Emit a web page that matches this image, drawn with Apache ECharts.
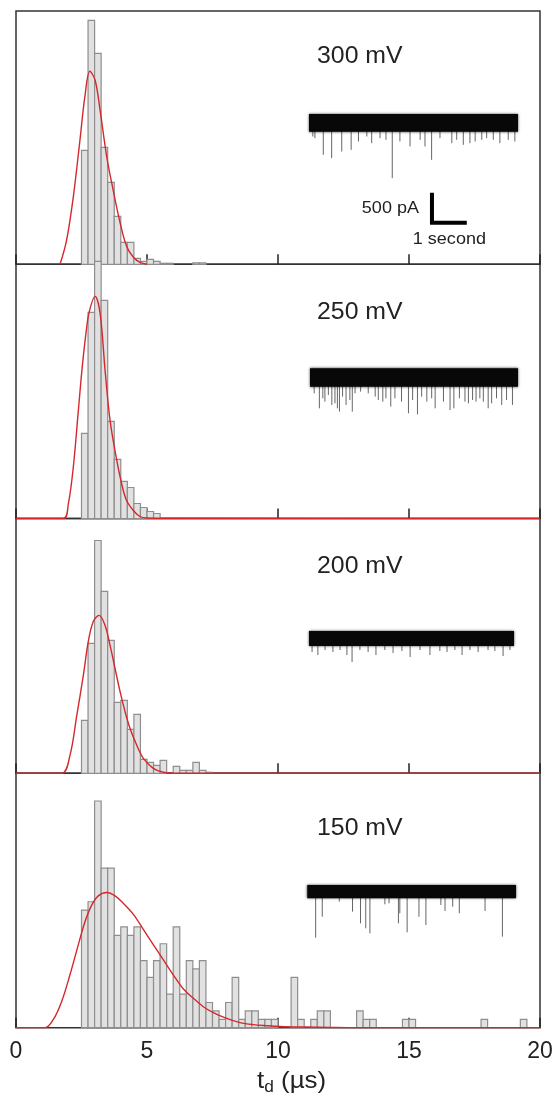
<!DOCTYPE html>
<html><head><meta charset="utf-8">
<script src="https://cdn.jsdelivr.net/npm/echarts@6/dist/echarts.min.js"></script>
<style>html,body{margin:0;padding:0;background:#fff}#c{width:557px;height:1095px}</style>
</head><body><div id="c"></div>
<script>
// ---------------- DATA ----------------
const panelLabels = ['300 mV', '250 mV', '200 mV', '150 mV'];
const xTickValues = [0, 5, 10, 15, 20];          // t_d axis ticks (µs)
const binStart = 2.5, binWidth = 0.25;           // histogram bins (µs)

// histogram heights per bin, starting at 2.5 µs
const counts300 = [114, 244, 211, 117, 82, 48, 22, 22, 6, 3, 5, 3, 1, 1, 0, 0, 0, 1.5, 1.5];
const counts250 = [85, 206, 257, 218, 97, 59, 37, 31, 15, 11, 7, 5];
const counts200 = [53, 130, 233, 182, 133, 71, 73, 44, 59, 14, 11, 8, 13, 0, 7, 3, 3, 11, 3, 1];
const counts150 = [14, 15, 27, 19, 19, 11, 12, 11, 12, 8,
                   6, 8, 10, 4, 12, 4, 8, 7, 8, 3,
                   2, 1, 3, 6, 1, 2, 2, 1, 1, 1,
                   0, 0, 6, 1, 0, 1, 2, 2, 0, 0,
                   0, 0, 2, 1, 1, 0, 0, 0, 0, 1,
                   1, 0, 0, 0, 0, 0, 0, 0, 0, 0,
                   0, 1, 0, 0, 0, 0, 0, 1];
const yMaxHist = [253.3, 254, 255, 30.3];

// fitted curves [t_d (µs), height]
const curve300 = [[1.68,0],[1.93,24],[2.19,68],[2.44,124],[2.63,168],[2.82,193],[3.02,184],[3.21,154],[3.46,108],[3.71,74],[3.97,42],[4.22,18],[4.48,7],[4.73,2],[5.0,0]];
const curve250 = [[0,0],[1.81,0],[2.0,15],[2.19,52],[2.38,108],[2.53,152],[2.67,185],[2.79,206],[3.02,222],[3.21,205],[3.40,148],[3.59,98],[3.84,59],[4.03,35],[4.22,18],[4.48,8],[4.73,2],[4.99,0.5],[6,0.2],[20,0]];
const curve200 = [[0,0],[1.74,0],[2.06,18],[2.32,58],[2.57,98],[2.76,132],[2.95,152],[3.17,158],[3.40,148],[3.59,128],[3.78,105],[3.97,82],[4.16,62],[4.35,45],[4.61,28],[4.86,15],[5.24,5],[5.62,1],[6.0,0],[20,0]];
const curve150 = [[0,0],[1.11,0],[1.42,0.95],[1.74,3.1],[2.06,6.3],[2.38,9.9],[2.63,12.6],[2.89,14.6],[3.14,15.7],[3.46,16.1],[3.78,15.7],[4.10,14.8],[4.48,13.5],[4.86,11.7],[5.24,9.9],[5.62,8.1],[6.0,6.3],[6.39,4.6],[6.77,3.5],[7.15,2.5],[7.53,1.8],[8.04,1.1],[8.55,0.6],[9.06,0.36],[9.57,0.24],[10.08,0.15],[11,0.08],[12,0.03],[13,0],[20,0]];

// current traces: time span (s), noise half-band (pA), events [t (s), current (pA)]
const traceSpan = [0, 6];
const traceNoise = [147, 153, 125, 111];
const traceYMin = [-1750, -800, -800, -900];
const spikes300 = [[0.11,-228],[0.17,-256],[0.41,-533],[0.65,-589],[0.94,-478],[1.21,-450],[1.42,-311],[1.66,-228],[1.80,-339],[2.04,-256],[2.21,-283],[2.39,-922],[2.61,-311],[2.90,-394],[3.19,-283],[3.33,-394],[3.52,-617],[3.76,-256],[4.10,-339],[4.24,-283],[4.43,-367],[4.62,-339],[4.77,-311],[4.96,-283],[5.10,-256],[5.29,-283],[5.48,-339],[5.72,-283],[5.91,-311]];
const spikes250 = [[0.12,-264],[0.27,-514],[0.37,-347],[0.43,-403],[0.53,-292],[0.63,-458],[0.72,-431],[0.79,-514],[0.85,-569],[0.94,-319],[1.04,-458],[1.15,-375],[1.22,-569],[1.30,-264],[1.46,-236],[1.68,-264],[1.88,-319],[1.97,-375],[2.10,-403],[2.19,-347],[2.33,-486],[2.45,-347],[2.64,-403],[2.84,-597],[2.96,-375],[3.10,-614],[3.22,-319],[3.37,-403],[3.51,-347],[3.61,-514],[3.85,-403],[4.04,-542],[4.15,-514],[4.31,-347],[4.47,-403],[4.57,-431],[4.69,-375],[4.79,-403],[4.90,-347],[5.00,-403],[5.14,-514],[5.24,-431],[5.38,-347],[5.53,-458],[5.67,-375],[5.84,-458]];
const spikes200 = [[0.09,-225],[0.26,-275],[0.47,-192],[0.70,-225],[0.91,-192],[1.11,-275],[1.26,-392],[1.49,-192],[1.73,-225],[1.96,-275],[2.22,-192],[2.46,-242],[2.72,-208],[2.96,-308],[3.25,-192],[3.54,-275],[3.83,-208],[4.04,-225],[4.27,-192],[4.48,-275],[4.71,-192],[4.95,-225],[5.24,-192],[5.44,-208],[5.68,-292],[5.88,-192]];
const spikes150 = [[0.24,-767],[0.43,-417],[0.92,-167],[1.30,-333],[1.53,-528],[1.68,-611],[1.80,-694],[2.23,-211],[2.35,-194],[2.62,-528],[2.66,-361],[2.87,-678],[3.21,-417],[3.41,-556],[3.84,-222],[3.96,-322],[4.18,-250],[4.37,-361],[5.11,-322],[5.61,-750]];
const scaleBarSize = [1, 500];          // 1 second, 500 pA
const scaleBarCorner = [3.53, -1667];   // corner in trace-1 coordinates

// ---------------- LAYOUT ----------------
const FONT = 'Liberation Sans, Arial, sans-serif';
const histGrids = [
  {top: 11, height: 253.3}, {top: 264.3, height: 254.2},
  {top: 518.5, height: 254.8}, {top: 773.3, height: 254.4}
];
const insetLayout = [
  {left: 309, top: 114, width: 209}, {left: 310, top: 368.3, width: 208},
  {left: 309, top: 631, width: 205}, {left: 307.3, top: 885, width: 208.7}
];
const pxPerPA = 30 / 500;
const labelY = [57, 313, 567, 829];

const countsAll = [counts300, counts250, counts200, counts150];
const curvesAll = [curve300, curve250, curve200, curve150];
const spikesAll = [spikes300, spikes250, spikes200, spikes150];

const grid = [], xAxis = [], yAxis = [], series = [], graphic = [];

histGrids.forEach((g, i) => {
  grid.push({left: 16, width: 524, top: g.top, height: g.height, show: true,
    borderColor: '#333', borderWidth: 1.5, backgroundColor: 'transparent', outerBoundsMode: 'none'});
  xAxis.push({type: 'value', gridIndex: i, min: xTickValues[0], max: xTickValues[xTickValues.length - 1],
    interval: xTickValues[1] - xTickValues[0],
    axisLine: {show: false}, splitLine: {show: false},
    axisTick: {show: true, inside: true, length: 10, lineStyle: {color: '#222', width: 1.5}},
    axisLabel: {show: i === 3, fontSize: 23, color: '#222', fontFamily: FONT, margin: 12}});
  yAxis.push({type: 'value', gridIndex: i, min: 0, max: yMaxHist[i], show: false});
});
insetLayout.forEach((l, i) => {
  const yMax = traceNoise[i], yMin = traceYMin[i];
  grid.push({left: l.left, top: l.top, width: l.width, height: (yMax - yMin) * pxPerPA, show: false, outerBoundsMode: 'none'});
  xAxis.push({type: 'value', gridIndex: 4 + i, min: traceSpan[0], max: traceSpan[1], show: false});
  yAxis.push({type: 'value', gridIndex: 4 + i, min: yMin, max: yMax, show: false});
});

function barItem(params, api) {
  const x = api.value(0), v = api.value(1);
  if (!v) return null;
  const p0 = api.coord([x, 0]);
  const p1 = api.coord([x + binWidth, v]);
  return {type: 'rect', shape: {x: p0[0], y: p1[1], width: p1[0] - p0[0], height: p0[1] - p1[1]},
    style: {fill: '#e1e1e1', stroke: '#8e8e8e', lineWidth: 1.2}};
}

countsAll.forEach((arr, i) => {
  series.push({type: 'custom', xAxisIndex: i, yAxisIndex: i, renderItem: barItem, z: 2,
    data: arr.map((c, k) => [binStart + k * binWidth, c])});
  series.push({type: 'line', xAxisIndex: i, yAxisIndex: i, data: curvesAll[i], smooth: 0.35,
    showSymbol: false, clip: true, z: 3, lineStyle: {color: '#d5282c', width: 1.4}});
});

spikesAll.forEach((arr, i) => {
  const half = traceNoise[i];
  series.push({type: 'custom', xAxisIndex: 4 + i, yAxisIndex: 4 + i, z: 4,
    data: arr,
    renderItem: (p, api) => {
      const a = api.coord([api.value(0), 0]);
      const b = api.coord([api.value(0), api.value(1)]);
      return {type: 'line', shape: {x1: a[0], y1: a[1], x2: b[0], y2: b[1]}, style: {stroke: '#666', lineWidth: 1}};
    }});
  series.push({type: 'custom', xAxisIndex: 4 + i, yAxisIndex: 4 + i, z: 5,
    data: [[traceSpan[0], traceSpan[1], -half, half]],
    renderItem: (p, api) => {
      const a = api.coord([api.value(0), api.value(3)]);
      const b = api.coord([api.value(1), api.value(2)]);
      return {type: 'rect', shape: {x: a[0], y: a[1], width: b[0] - a[0], height: b[1] - a[1]},
        style: {fill: '#080808', shadowBlur: 2.5, shadowColor: 'rgba(0,0,0,0.75)'}};
    }});
});

// scale bar on trace 1
series.push({type: 'custom', xAxisIndex: 4, yAxisIndex: 4, z: 5,
  data: [[scaleBarCorner[0], scaleBarCorner[1], scaleBarSize[0], scaleBarSize[1]]],
  renderItem: (p, api) => {
    const t0 = api.value(0), i0 = api.value(1), dt = api.value(2), di = api.value(3);
    const c = api.coord([t0, i0]), top = api.coord([t0, i0 + di]), r = api.coord([t0 + dt, i0]);
    return {type: 'group', children: [
      {type: 'polyline', shape: {points: [top, c, r]}, style: {stroke: '#000', lineWidth: 4, fill: null, lineJoin: 'miter', lineCap: 'butt'}},
      {type: 'text', x: c[0] - 13, y: (top[1] + c[1]) / 2, scaleX: 1.06,
        style: {text: di + ' pA', fontSize: 17, fontFamily: FONT, fill: '#222', align: 'right', verticalAlign: 'middle'}},
      {type: 'text', x: (c[0] + r[0]) / 2, y: c[1] + 16, scaleX: 1.06,
        style: {text: dt + ' second', fontSize: 17, fontFamily: FONT, fill: '#222', align: 'center', verticalAlign: 'middle'}}
    ]};
  }});

panelLabels.forEach((t, i) => {
  graphic.push({type: 'text', x: 317, y: labelY[i], scaleX: 1.08, z: 10,
    style: {text: t, fontSize: 23, fontFamily: FONT, fill: '#222', verticalAlign: 'middle', align: 'left'}});
});
graphic.push({type: 'text', x: 257, y: 1081, scaleX: 1.08, z: 10,
  style: {text: '{a|t}{b|d}{a| (µs)}', verticalAlign: 'middle', align: 'left',
    rich: {a: {fontSize: 24, fontFamily: FONT, fill: '#222', lineHeight: 30},
           b: {fontSize: 16, fontFamily: FONT, fill: '#222', lineHeight: 16, verticalAlign: 'bottom'}}}});

const chart = echarts.init(document.getElementById('c'), null, {renderer: 'canvas'});
chart.setOption({animation: false, backgroundColor: '#fff', grid, xAxis, yAxis, series, graphic});
</script></body></html>
